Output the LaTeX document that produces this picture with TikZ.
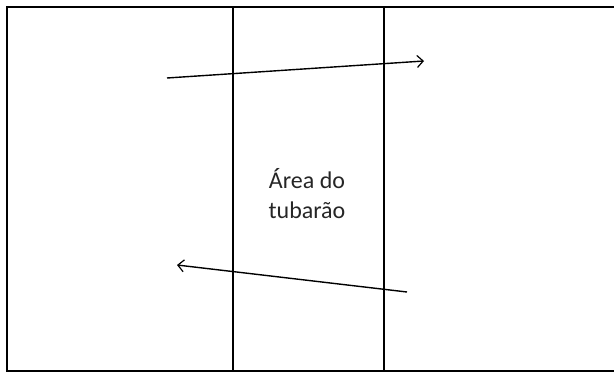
\documentclass[tikz,border=0pt]{standalone}
\usepackage{fontspec}
\setmainfont{Carlito}
\usetikzlibrary{arrows.meta}
\begin{document}
\begin{tikzpicture}[x=1pt,y=-1pt,
  frame/.style={line width=2.8pt,black},
  divider/.style={line width=2.8pt,black},
  move/.style={line width=1.4pt,black,-{Straight Barb[length=6pt,width=12pt,line width=1.2pt]}},
  label/.style={font=\fontsize{24}{30}\selectfont,align=center,text=black!85}]
\useasboundingbox (0,0) rectangle (614,372);
\begin{scope}
\clip (0,0) rectangle (614,372);
\draw[frame] (7,7) rectangle (625,371);
\end{scope}
\coordinate (d1t) at (233,7);
\coordinate (d1b) at (233,371);
\coordinate (d2t) at (384,7);
\coordinate (d2b) at (384,371);
\draw[divider] (d1t) -- (d1b);
\draw[divider] (d2t) -- (d2b);
\coordinate (a1s) at (167,78);
\coordinate (a1e) at (424,61);
\coordinate (a2s) at (407,292);
\coordinate (a2e) at (177,265);
\draw[move] (a1s) -- (a1e);
\draw[move] (a2s) -- (a2e);
\node[label] (area) at (307,194) {Área do\\tubarão};
\end{tikzpicture}
\end{document}
